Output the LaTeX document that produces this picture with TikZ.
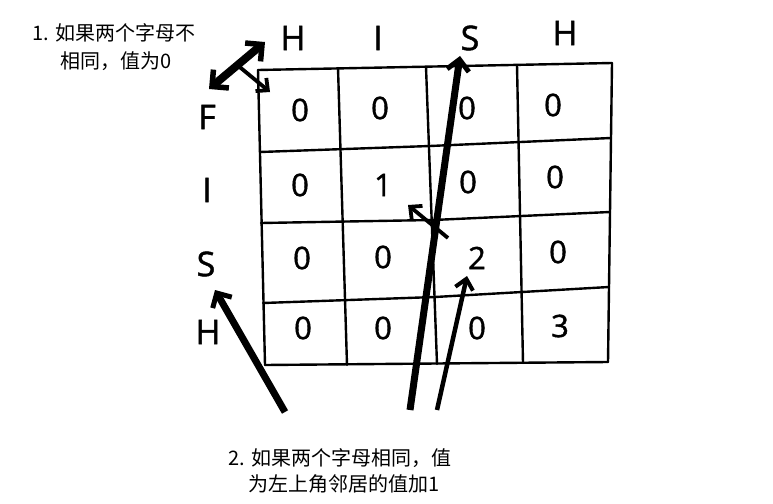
\documentclass[tikz,border=0pt]{standalone}
\usepackage{fontspec}
\setmainfont{Open Sans}
\newfontfamily\heavy{Open Sans}[FakeBold=1.3]
\newfontfamily\cjk{Noto Sans CJK SC}
\usetikzlibrary{arrows.meta}
\begin{document}
\begin{tikzpicture}[x=1pt,y=-1pt,
  hdr/.style={font=\heavy\fontsize{34}{34}\selectfont, inner sep=0pt},
  val/.style={font=\heavy\fontsize{31}{31}\selectfont, inner sep=0pt},
  note/.style={font=\cjk\fontsize{20}{20}\selectfont, inner sep=0pt},
  gridline/.style={line width=2.4pt, line cap=round},
  bigarrow/.style={line width=7pt, -{Straight Barb[length=11pt,width=22pt,line width=5pt]}},
  midarrow/.style={line width=4.5pt, -{Straight Barb[length=10pt,width=18pt,line width=4pt]}},
  thinarrow/.style={line width=3.8pt, -{Straight Barb[length=9pt,width=17pt,line width=3.8pt]}}]
\useasboundingbox (0,0) rectangle (773,503);
\fill[white] (0,0) rectangle (773,503);

% grid corner coordinates
\coordinate (t0) at (258,70);  \coordinate (t1) at (338,68);  \coordinate (t2) at (426,67);
\coordinate (t3) at (517,65);  \coordinate (t4) at (612,63);
\coordinate (b0) at (265,365); \coordinate (b1) at (347,365); \coordinate (b2) at (437,364);
\coordinate (b3) at (523,363); \coordinate (b4) at (608,362);
% vertical lines
\foreach \i in {0,...,4} \draw[gridline] (t\i) -- (b\i);
% horizontal lines
\draw[gridline] (t0) -- (t4);
\draw[gridline] (260,152) -- (430,146) -- (611,138);
\draw[gridline] (261,223) -- (433,220) -- (610,212);
\draw[gridline] (263,303) -- (435,297) -- (609,287);
\draw[gridline] (b0) -- (b4);

% column headers
\node[hdr] (cH1) at (293,38) {H};
\node[hdr] (cI)  at (378,38) {I};
\node[hdr] (cS)  at (470,38) {S};
\node[hdr] (cH2) at (565,33) {H};
% row headers
\node[hdr] (rF) at (207,117) {F};
\node[hdr] (rI) at (207,190) {I};
\node[hdr] (rS) at (206,264) {S};
\node[hdr] (rH) at (208,332) {H};

% cell values
\node[val] (v11) at (300,110) {0}; \node[val] (v12) at (380,108) {0};
\node[val] (v13) at (467,108) {0}; \node[val] (v14) at (553,105) {0};
\node[val] (v21) at (300,185) {0}; \node[val] (v22) at (383,185) {1};
\node[val] (v23) at (468,182) {0}; \node[val] (v24) at (555,177) {0};
\node[val] (v31) at (302,258) {0}; \node[val] (v32) at (383,257) {0};
\node[val] (v33) at (477,258) {2}; \node[val] (v34) at (558,252) {0};
\node[val] (v41) at (303,328) {0}; \node[val] (v42) at (383,328) {0};
\node[val] (v43) at (477,328) {0}; \node[val] (v44) at (560,326) {3};

% notes
\node[note] (n1a) at (114,33) {1. 如果两个字母不};
\node[note] (n1b) at (116,61) {相同，值为0};
\node[note] (n2a) at (340,458) {2. 如果两个字母相同，值};
\node[note] (n2b) at (344,484) {为左上角邻居的值加1};

% arrow coordinates
\coordinate (dA) at (209,89);
\coordinate (dB) at (265,42);
\coordinate (dM) at (236,64);
\coordinate (corner) at (270,92);
\coordinate (longS) at (410,410);
\coordinate (longE) at (460,56);
\coordinate (smS) at (448,238);
\coordinate (smE) at (408,205);
\coordinate (twoS) at (437,410);
\coordinate (twoE) at (467,276);
\coordinate (rsS) at (285,412);
\coordinate (rsE) at (215,290);

\draw[line width=8pt, {Straight Barb[length=12pt,width=24pt,line width=5.5pt]}-{Straight Barb[length=12pt,width=24pt,line width=5.5pt]}] (dA) -- (dB);
\draw[thinarrow] (dM) -- (corner);
\draw[bigarrow] (longS) -- (longE);
\draw[thinarrow] (smS) -- (smE);
\draw[midarrow] (twoS) -- (twoE);
\draw[bigarrow] (rsS) -- (rsE);
\end{tikzpicture}
\end{document}
